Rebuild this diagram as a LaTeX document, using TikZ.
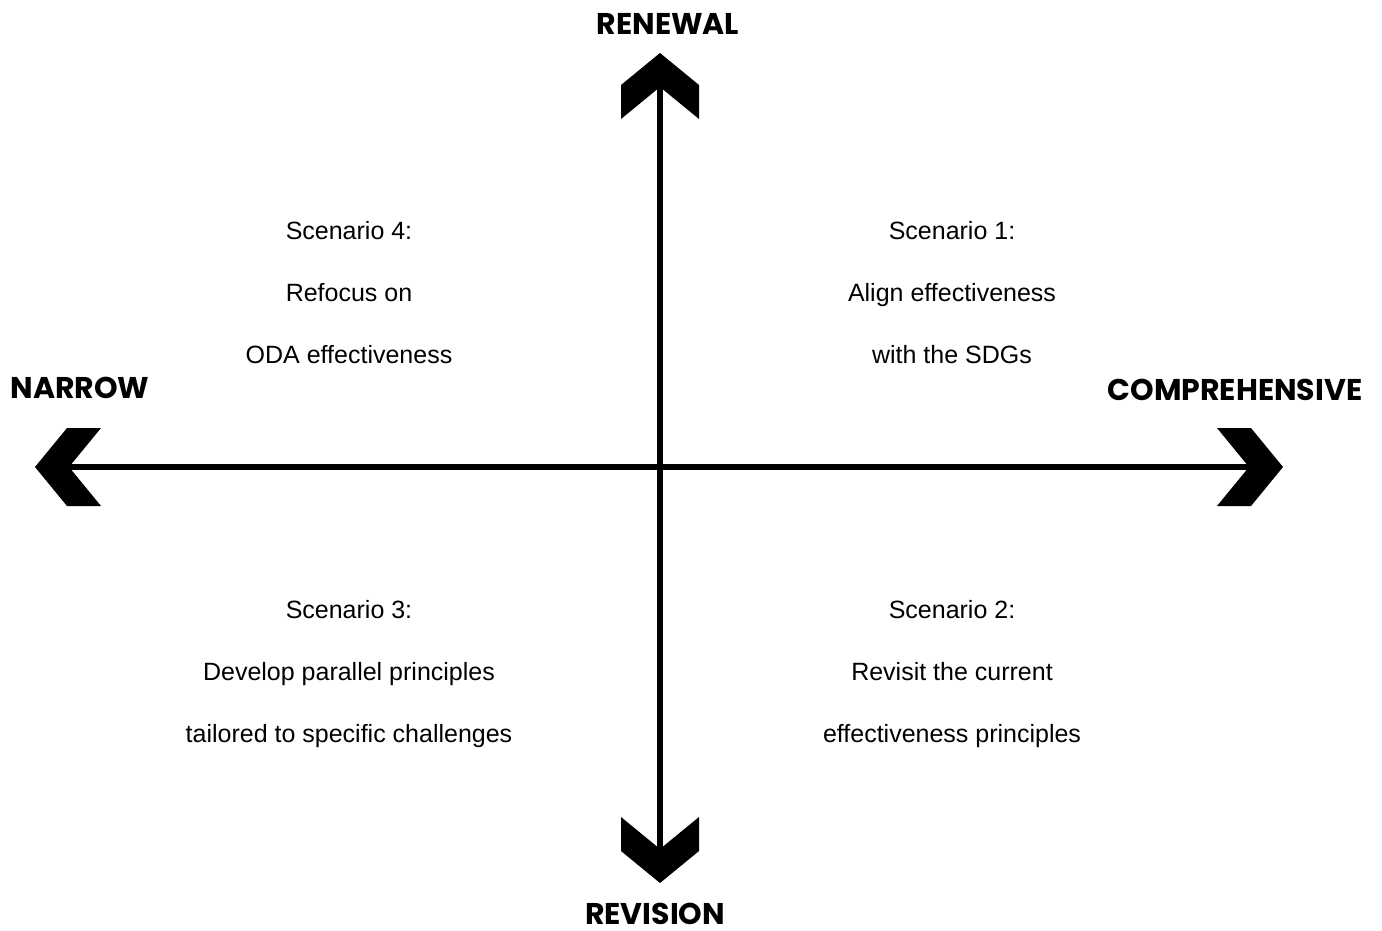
\documentclass[tikz,border=0pt]{standalone}
\usepackage{fontspec}
\setmainfont{Liberation Sans}
\newfontfamily\axisfont{Poppins}
\usetikzlibrary{positioning, calc}

\begin{document}
\begin{tikzpicture}[x=1pt, y=-1pt,
    axislabel/.style = {font=\axisfont\bfseries\fontsize{30}{34}\selectfont, inner sep=0pt},
    scenario/.style = {align=center, font=\fontsize{25}{62}\selectfont, inner sep=0pt},
    axis/.style = {line width=6pt, shorten >=22pt, shorten <=22pt},
    pics/chevron/.style = {code={\fill (0,0) -- (-32,39) -- (-66,39) -- (-34,0) -- (-66,-39) -- (-32,-39) -- cycle;}}]
        \useasboundingbox (0,0) rectangle (1382,930);
        \coordinate (o) at (660,467);
        \coordinate (renewalTip) at (660,53);
        \coordinate (revisionTip) at (660,883);
        \coordinate (narrowTip) at (35,467);
        \coordinate (comprTip) at (1283,467);
        % axes
        \draw[axis] (narrowTip) -- (comprTip);
        \draw[axis] (revisionTip) -- (renewalTip);
        \pic[rotate=90] at (renewalTip) {chevron};
        \pic[rotate=270] at (revisionTip) {chevron};
        \pic[rotate=180] at (narrowTip) {chevron};
        \pic at (comprTip) {chevron};
        % axis labels
        \node[axislabel] (renewal) at (668,24) {RENEWAL};
        \node[axislabel] (revision) at (655,914) {REVISION};
        \node[axislabel] (narrow) at (80,388) {NARROW};
        \node[axislabel] (compr) at (1235,390) {COMPREHENSIVE};
        % scenarios
        \node[scenario] (s4) at (349,293) {Scenario 4:\\Refocus on\\ODA effectiveness};
        \node[scenario] (s1) at (952,293) {Scenario 1:\\Align effectiveness\\with the SDGs};
        \node[scenario] (s3) at (349,674) {Scenario 3:\\Develop parallel principles\\tailored to specific challenges};
        \node[scenario] (s2) at (952,674) {Scenario 2:\\Revisit the current\\effectiveness principles};
    \end{tikzpicture}
\end{document}
